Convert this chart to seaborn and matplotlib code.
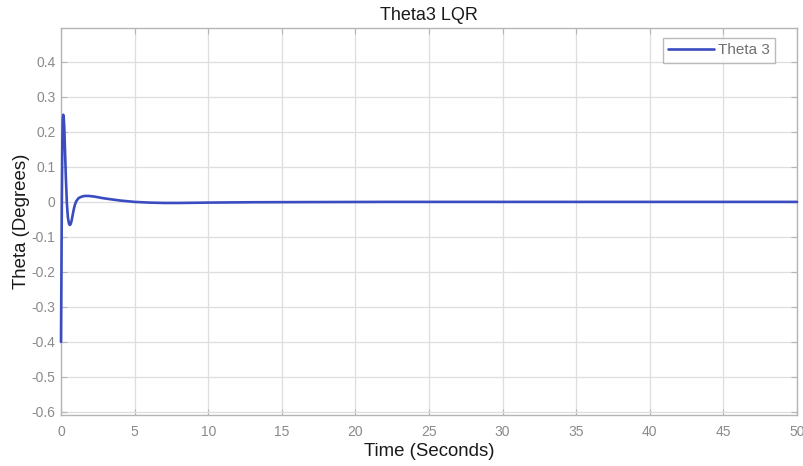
import matplotlib
matplotlib.use("Agg")
import matplotlib.pyplot as plt
import seaborn as sns
import pandas as pd

# Data
time_s = [0.0, 0.03, 0.06, 0.09, 0.12, 0.15, 0.18, 0.22, 0.27, 0.33, 0.40, 0.47,
          0.54, 0.60, 0.66, 0.73, 0.80, 0.88, 0.96, 1.05, 1.2, 1.4, 1.6, 1.9,
          2.3, 2.8, 3.3, 4.0, 5.0, 6.0, 7.0, 8.0, 10.0, 13.0, 17.0, 22.0, 30.0, 40.0, 50.0]
theta3 = [-0.40, -0.20, 0.02, 0.17, 0.235, 0.249, 0.245, 0.215, 0.15, 0.07, -0.005, -0.045,
          -0.062, -0.066, -0.063, -0.052, -0.036, -0.019, -0.006, 0.003, 0.011, 0.015, 0.017, 0.017,
          0.015, 0.011, 0.008, 0.004, 0.000, -0.002, -0.003, -0.003, -0.002, -0.001, -0.0005, 0.0, 0.0, 0.0, 0.0]
series_name = "Theta 3"
title = "Theta3 LQR"
xlabel = "Time (Seconds)"
ylabel = "Theta (Degrees)"
xticks = [0, 5, 10, 15, 20, 25, 30, 35, 40, 45, 50]
yticks = [-0.6, -0.5, -0.4, -0.3, -0.2, -0.1, 0, 0.1, 0.2, 0.3, 0.4]
ytick_labels = ["-0.6", "-0.5", "-0.4", "-0.3", "-0.2", "-0.1", "0", "0.1", "0.2", "0.3", "0.4"]

df = pd.DataFrame({"t": time_s, "v": theta3, "s": series_name})

sns.set_style("whitegrid")
plt.rcParams["font.family"] = ["Liberation Sans", "DejaVu Sans"]

fig = plt.figure(figsize=(8.04, 4.66), dpi=100)
ax = fig.add_axes([61/804, 51/466, 736/804, 387/466])

sns.lineplot(data=df, x="t", y="v", hue="s", palette=["#3a4cc0"], linewidth=1.9,
             ax=ax, estimator=None, sort=False)
for ln in ax.get_lines():
    ln.set_clip_on(False)
    ln.set_zorder(5)

ax.set_xlim(0, 50)
ax.set_ylim(-0.609, 0.497)
ax.set_xticks(xticks)
ax.set_xticklabels([str(x) for x in xticks])
ax.set_yticks(yticks)
ax.set_yticklabels(ytick_labels)

ax.grid(True, color="#dedede", linewidth=0.9)
for sp in ax.spines.values():
    sp.set_visible(True)
    sp.set_color("#b5b5b5")
    sp.set_linewidth(1.0)
    sp.set_zorder(2)

ax.tick_params(axis="both", which="both", direction="in", length=4, width=0.8,
               color="#b5b5b5", labelcolor="#8a8a8a", labelsize=10,
               top=True, right=True, bottom=True, left=True)
ax.tick_params(axis="x", pad=7)
ax.tick_params(axis="y", pad=4)

ax.set_title(title, fontsize=13, color="#1a1a1a", pad=6)
ax.set_xlabel(xlabel, fontsize=13.4, color="#1a1a1a", labelpad=3)
ax.set_ylabel(ylabel, fontsize=13.4, color="#1a1a1a", labelpad=1)

leg = ax.legend(loc="upper right", bbox_to_anchor=((775 - 61) / 736, (415 - 38) / 387),
                borderaxespad=0, frameon=True,
                fancybox=False, edgecolor="#aaaaaa", fontsize=11,
                handlelength=3.0, handletextpad=0.25, borderpad=0.35)
leg.get_frame().set_linewidth(1.0)
for t in leg.get_texts():
    t.set_color("#707070")

fig.savefig("out.png", dpi=100, facecolor="white")
